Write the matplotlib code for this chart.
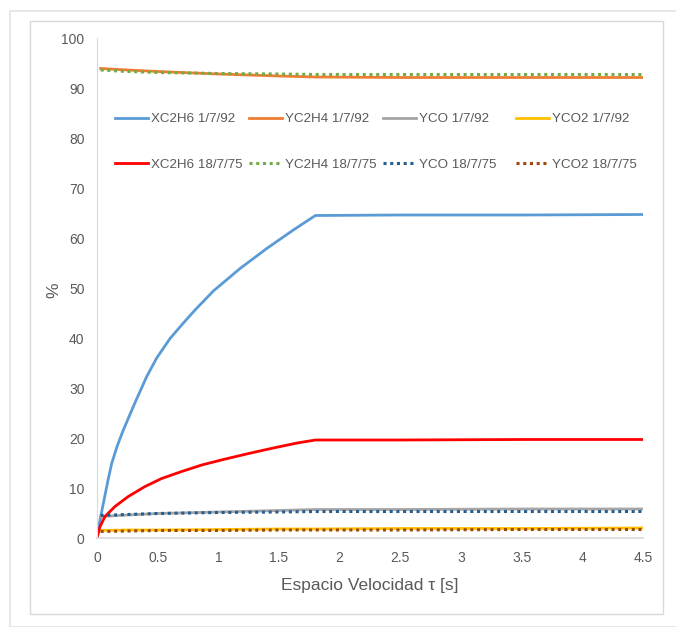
import matplotlib.pyplot as plt
from matplotlib.patches import Rectangle

plt.rcParams['font.family'] = ['Liberation Sans', 'DejaVu Sans']

# conversion curves
tau_92 = [0, 0.014, 0.038, 0.091, 0.121, 0.165, 0.217, 0.275, 0.321, 0.41, 0.492,
          0.602, 0.712, 0.808, 0.959, 1.179, 1.399, 1.618, 1.8, 2.5, 3.5, 4.5]
x_c2h6_92 = [0, 2.2, 5.2, 11.6, 14.9, 18.3, 21.6, 24.9, 27.5, 32.3, 36.0,
             39.9, 43.0, 45.6, 49.4, 53.9, 57.9, 61.6, 64.5, 64.6, 64.6, 64.7]
tau_75 = [0, 0.025, 0.066, 0.148, 0.258, 0.396, 0.533, 0.698, 0.863, 1.041, 1.25,
          1.453, 1.65, 1.8, 2.5, 3.5, 4.5]
x_c2h6_75 = [0, 2.3, 4.3, 6.3, 8.3, 10.3, 11.9, 13.3, 14.6, 15.7, 16.9,
             18.0, 19.0, 19.6, 19.6, 19.7, 19.7]

# yields
tau_y = [0.03, 0.25, 0.5, 1.0, 1.5, 1.8, 2.5, 3.5, 4.5]
y_c2h4_92 = [93.9, 93.6, 93.3, 92.8, 92.4, 92.2, 92.1, 92.1, 92.1]
y_c2h4_75 = [93.6, 93.3, 93.1, 92.9, 92.8, 92.7, 92.7, 92.7, 92.7]
y_co_92 = [4.3, 4.6, 4.9, 5.2, 5.5, 5.7, 5.7, 5.8, 5.8]
y_co_75 = [4.5, 4.7, 4.9, 5.1, 5.2, 5.3, 5.3, 5.3, 5.3]
y_co2_92 = [1.5, 1.6, 1.6, 1.7, 1.8, 1.8, 1.9, 1.9, 2.0]
y_co2_75 = [1.3, 1.4, 1.5, 1.5, 1.6, 1.6, 1.6, 1.7, 1.7]

fig = plt.figure(figsize=(6.76, 6.27), dpi=100)

# frames around the chart
fig.patches.append(Rectangle((9.5 / 676, 0), 1, 1 - 11 / 627, transform=fig.transFigure,
                             fill=False, edgecolor='#e3e3e3', lw=1.2))
fig.patches.append(Rectangle((30 / 676, 1 - 614 / 627), 633 / 676, 593 / 627,
                             transform=fig.transFigure, fill=False, edgecolor='#d9d9d9', lw=1))

ax = fig.add_axes([97 / 676, 1 - 538 / 627, 546 / 676, 500 / 627])

dots = (0, (1, 1.2))
l1, = ax.plot(tau_92, x_c2h6_92, color='#5b9bd5', lw=2, label='XC2H6 1/7/92')
l2, = ax.plot(tau_y, y_c2h4_92, color='#ed7d31', lw=2, label='YC2H4 1/7/92')
l3, = ax.plot(tau_y, y_co_92, color='#a5a5a5', lw=2, label='YCO 1/7/92')
l4, = ax.plot(tau_y, y_co2_92, color='#ffc000', lw=2, label='YCO2 1/7/92')
l5, = ax.plot(tau_75, x_c2h6_75, color='#ff0000', lw=2, label='XC2H6 18/7/75')
l6, = ax.plot(tau_y, y_c2h4_75, color='#70ad47', lw=2.2, ls=dots, label='YC2H4 18/7/75')
l7, = ax.plot(tau_y, y_co_75, color='#255e91', lw=2.2, ls=dots, label='YCO 18/7/75')
l8, = ax.plot(tau_y, y_co2_75, color='#9e480e', lw=2.2, ls=dots, label='YCO2 18/7/75')

ax.set_xlim(0, 4.5)
ax.set_ylim(0, 100)
ax.set_xticks([0, 0.5, 1, 1.5, 2, 2.5, 3, 3.5, 4, 4.5])
ax.set_xticklabels(['0', '0.5', '1', '1.5', '2', '2.5', '3', '3.5', '4', '4.5'])
ax.set_yticks(range(0, 101, 10))
ax.tick_params(length=0, colors='#595959', labelsize=10, pad=9)

for s in ['top', 'right']:
    ax.spines[s].set_visible(False)
ax.spines['left'].set_color('#d9d9d9')
ax.spines['bottom'].set_color('#d9d9d9')
ax.spines['bottom'].set_linewidth(1.2)

ax.set_xlabel('Espacio Velocidad τ [s]', color='#595959', fontsize=12.5, labelpad=10)
ax.set_ylabel('%', color='#595959', fontsize=12.5)
ax.yaxis.set_label_coords(-0.066, 0.496)

# legend: four evenly spaced columns, 1/7/92 on top row, 18/7/75 below
columns = [(l1, l5), (l2, l6), (l3, l7), (l4, l8)]
col_x = [0.033, 0.278, 0.524, 0.767]
for i, (a, b) in enumerate(columns):
    leg = ax.legend([a, b], [a.get_label(), b.get_label()], loc='upper left',
                    bbox_to_anchor=(col_x[i], 0.850), frameon=False, fontsize=9.6,
                    labelcolor='#595959', handlelength=2.5, handletextpad=0.2,
                    borderpad=0, borderaxespad=0, labelspacing=2.5)
    if i < len(columns) - 1:
        ax.add_artist(leg)

plt.savefig('out.png', dpi=100)
